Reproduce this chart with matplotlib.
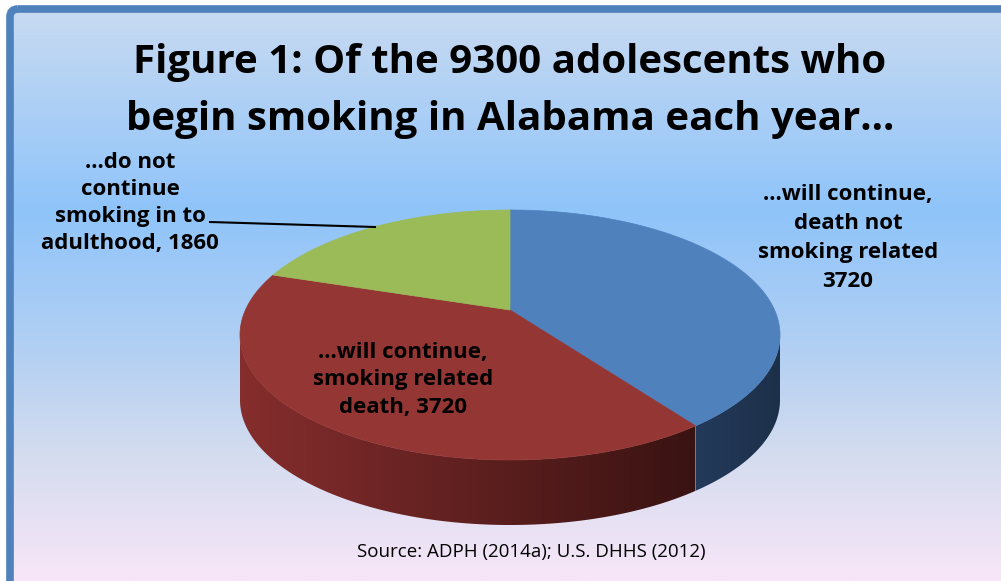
import numpy as np
import matplotlib
matplotlib.use("Agg")
import matplotlib.pyplot as plt
from matplotlib.patches import Polygon, FancyBboxPatch
from matplotlib.colors import to_rgb, LinearSegmentedColormap

# data
labels = ["...will continue,\ndeath not\nsmoking related\n3720",
          "...will continue,\nsmoking related\ndeath, 3720",
          "...do not\ncontinue\nsmoking in to\nadulthood, 1860"]
values = [3720, 3720, 1860]
top_colors = ["#4f81bd", "#943634", "#9bbb59"]
side_light = ["#233a5b", "#862d2d", "#7a9a40"]
side_dark = ["#1d3049", "#391312", "#5a7430"]
title = "Figure 1: Of the 9300 adolescents who\nbegin smoking in Alabama each year..."
source = "Source: ADPH (2014a); U.S. DHHS (2012)"

W, H = 1001, 581
fig = plt.figure(figsize=(W / 100, H / 100), dpi=100)
ax = fig.add_axes([0, 0, 1, 1])
ax.set_xlim(0, W)
ax.set_ylim(H, 0)
ax.axis("off")

# background gradient
stops = [(0.0, "#c8daf1"), (0.35, "#8fc4fa"), (0.6, "#b3d0f3"), (0.78, "#d4dcef"), (1.0, "#f8e6f8")]
ys = np.linspace(0, 1, 300)
cols = np.zeros((300, 3))
for ch in range(3):
    cols[:, ch] = np.interp(ys, [s[0] for s in stops], [to_rgb(s[1])[ch] for s in stops])
ax.imshow(cols[:, None, :], extent=[10, W, H, 10], aspect="auto", zorder=0)

frame = FancyBboxPatch((10, 9), 1010, 600, boxstyle="round,pad=0,rounding_size=8",
                       fill=False, ec="#4f81bd", lw=5.5, zorder=10)
ax.add_patch(frame)

# 3D pie geometry with a little perspective (k)
cx, cy, a, b, depth, k = 510, 335, 270, 125, 65, 0.2
xmax = np.sqrt(1 - k * k) / (1 - k * k)
ytop, ybot = 1 / (1 + k), -1 / (1 - k)
ymid, yhalf = (ytop + ybot) / 2, (ytop - ybot) / 2

def pt(phi):
    r = np.radians(phi)
    d = 1 + k * np.sin(r)
    px, py = np.cos(r) / d, np.sin(r) / d
    return cx + a * px / xmax, cy - b * (py - ymid) / yhalf

total = sum(values)
start = 90.0
spans = []
for v in values:
    end = start - 360.0 * v / total
    spans.append((start, end))
    start = end

vis_lo = -180 + np.degrees(np.arcsin(k))
vis_hi = -np.degrees(np.arcsin(k))

# side walls
for i, (s, e) in enumerate(spans):
    rng = None
    for off in (0, 360, -360):
        lo, hi = max(e + off, vis_lo), min(s + off, vis_hi)
        if lo < hi:
            rng = (lo, hi)
            break
    if rng is None:
        continue
    ts = np.linspace(rng[0], rng[1], 150)
    xs, ys_ = pt(ts)
    poly = list(zip(xs, ys_)) + list(zip(xs[::-1], ys_[::-1] + depth))
    patch = Polygon(poly, closed=True, fc="none", ec="none", zorder=2)
    ax.add_patch(patch)
    cmap = LinearSegmentedColormap.from_list("s%d" % i, [side_light[i], side_dark[i]])
    grad = np.linspace(0, 1, 256)[None, :]
    im = ax.imshow(grad, cmap=cmap, extent=[xs.min(), xs.max(), ys_.max() + depth, ys_.min()],
                   aspect="auto", zorder=2, interpolation="bilinear")
    im.set_clip_path(patch)

# top faces
for i, (s, e) in enumerate(spans):
    ts = np.linspace(s, e, 200)
    xs, ys_ = pt(ts)
    poly = [pt(0)[0] * 0 + cx, cy - b * (0 - ymid) / yhalf]
    poly = [tuple(poly)] + list(zip(xs, ys_))
    ax.add_patch(Polygon(poly, closed=True, fc=top_colors[i], ec=top_colors[i], lw=0.5, zorder=3))

font = "Open Sans"
ax.text(510, 91, title, ha="center", va="center", fontsize=29, fontweight="bold",
        family=font, linespacing=1.6, zorder=5)

ax.text(848, 238, labels[0], ha="center", va="center", fontsize=16, fontweight="bold",
        family=font, linespacing=1.5, zorder=5)
ax.text(403, 380, labels[1], ha="center", va="center", fontsize=16, fontweight="bold",
        family=font, linespacing=1.43, zorder=5)
ax.text(130, 203, labels[2], ha="center", va="center", fontsize=16, fontweight="bold",
        family=font, linespacing=1.36, zorder=5)
ax.plot([210, 375], [222, 227], color="black", lw=1.5, zorder=5)

ax.text(531, 552, source, ha="center", va="center", fontsize=13.5, family=font, zorder=5)

fig.savefig("out.png", dpi=100)
